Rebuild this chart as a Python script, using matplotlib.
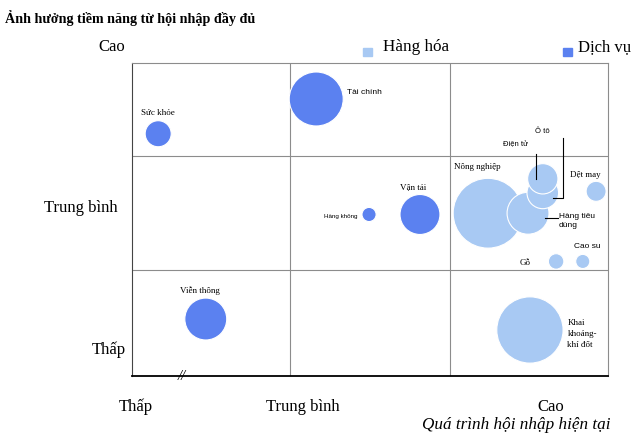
import matplotlib.pyplot as plt
from matplotlib.patches import Rectangle

plt.rcParams['font.family'] = ['Liberation Serif', 'DejaVu Serif']

# data: x = quá trình hội nhập hiện tại (0-100), y = ảnh hưởng tiềm năng (0-100)
goods = ["Nông nghiệp", "Hàng tiêu dùng", "Ô tô", "Điện tử", "Dệt may",
         "Cao su", "Gỗ", "Khai khoáng-khí đốt"]
goods_x = [74.8, 83.2, 86.3, 86.3, 97.5, 94.7, 89.1, 83.6]
goods_y = [52.0, 52.0, 58.5, 63.0, 59.0, 36.6, 36.6, 14.7]
goods_w = [122, 44, 25, 23, 10, 5, 6, 110]

services = ["Sức khỏe", "Tài chính", "Hàng không", "Vận tải", "Viễn thông"]
serv_x = [5.5, 38.7, 49.8, 60.5, 15.5]
serv_y = [77.4, 88.5, 51.6, 51.6, 18.2]
serv_w = [17, 73, 5, 40, 44]

row_lines = [33.8, 70.4]
col_lines = [33.2, 66.8]
y_levels = ["Thấp", "Trung bình", "Cao"]
x_levels = ["Thấp", "Trung bình", "Cao"]

light = "#a8c9f3"
dark = "#5b81f0"
k = 20.7  # scatter size per weight unit

fig = plt.figure(figsize=(6.4, 4.42), dpi=100)
ax = fig.add_axes([132 / 640, 1 - 376 / 442, 476 / 640, 313 / 442])
ax.set_xlim(0, 100)
ax.set_ylim(0, 100)
ax.set_xticks([])
ax.set_yticks([])
for v in col_lines:
    ax.axvline(v, color="#8c8c8c", lw=0.8, zorder=0)
for v in row_lines:
    ax.axhline(v, color="#8c8c8c", lw=0.8, zorder=0)
ax.spines["top"].set_color("#8c8c8c")
ax.spines["right"].set_color("#8c8c8c")
ax.spines["top"].set_linewidth(0.8)
ax.spines["right"].set_linewidth(0.8)
ax.spines["left"].set_color("#444444")
ax.spines["left"].set_linewidth(0.8)
ax.spines["bottom"].set_color("black")
ax.spines["bottom"].set_linewidth(1.3)

ax.scatter(goods_x, goods_y, s=[k * w for w in goods_w], c=light,
           edgecolors="white", linewidths=0.8, zorder=3)
ax.scatter(serv_x, serv_y, s=[k * w for w in serv_w], c=dark,
           edgecolors="white", linewidths=0.8, zorder=3)

px = 100 / 476
py = 100 / 313


def lab(name, x, y, dx, dy, ha="left", size=6, fam=None, ls=1.2):
    kw = {}
    if fam:
        kw["family"] = fam
    ax.annotate(name, (x, y), xytext=(dx, dy), textcoords="offset points",
                ha=ha, va="center", fontsize=size, zorder=5, linespacing=ls, **kw)


sans = ["Liberation Sans", "DejaVu Sans"]
g = dict(zip(goods, zip(goods_x, goods_y)))
s = dict(zip(services, zip(serv_x, serv_y)))

lab("Sức khỏe", *s["Sức khỏe"], 0, 15, ha="center", size=6.5)
lab("Tài chính", *s["Tài chính"], 22, 5, size=6, fam=sans)
lab("Hàng không", *s["Hàng không"], -8, -1.5, ha="right", size=4.5, fam=sans)
lab("Vận tải", *s["Vận tải"], -5, 19.5, ha="center", size=6.5)
lab("Viễn thông", *s["Viễn thông"], -4, 20.5, ha="center", size=6.5)

lab("Nông nghiệp", *g["Nông nghiệp"], -8, 33, ha="center", size=6.5)
lab("Dệt may", *g["Dệt may"], -8, 11.5, ha="center", size=6.5)
lab("Cao su", *g["Cao su"], 3, 11, ha="center", size=6, fam=sans)
lab("Gỗ", *g["Gỗ"], -22, -1, ha="center", size=6.5)
lab("Khai\nkhoáng-\nkhí đốt", *g["Khai khoáng-khí đốt"], 27, -3, size=6.5, ls=1.45)

# leader lines
ex, ey = g["Điện tử"]
ax.plot([ex - 7 * px, ex - 7 * px], [ey, ey + 25 * py], color="black", lw=0.8, zorder=4)
lab("Điện tử", ex - 15 * px, ey + 34 * py, 0, 0, ha="right", size=5.5, fam=sans)

ox, oy = g["Ô tô"]
ax.plot([ox + 10 * px, ox + 20 * px, ox + 20 * px],
        [oy - 5 * py, oy - 5 * py, oy + 55 * py], color="black", lw=0.8, zorder=4)
lab("Ô tô", ox, oy + 61 * py, 0, 0, ha="center", size=5.5, fam=sans)

hx, hy = g["Hàng tiêu dùng"]
ax.plot([hx + 17 * px, hx + 30 * px], [hy - 5 * py, hy - 5 * py],
        color="black", lw=0.8, zorder=4)
lab("Hàng tiêu\ndùng", hx + 31 * px, hy - 8 * py, 0, 0, size=6, fam=sans, ls=1.3)

# axis break mark
ax.text((182 - 132) * px, 0, "//", ha="center", va="center", fontsize=10.5,
        style="italic", zorder=6, clip_on=False)

# level labels
for lvl, xr, ypix in zip(y_levels, [126, 118, 125], [350, 208, 47]):
    fig.text(xr / 640, 1 - ypix / 442, lvl, ha="right", va="center", fontsize=12)
for lvl, xpix in zip(x_levels, [136, 303, 551]):
    fig.text(xpix / 640, 1 - 407 / 442, lvl, ha="center", va="center", fontsize=12)
fig.text(516 / 640, 1 - 425 / 442, "Quá trình hội nhập hiện tại", ha="center",
         va="center", fontsize=12.3, style="italic")
fig.text(5 / 640, 1 - 18 / 442, "Ảnh hưởng tiềm năng từ hội nhập đầy đủ",
         ha="left", va="center", fontsize=10.2, fontweight="bold")

# legend
for col, xpix in [(light, 363), (dark, 563)]:
    fig.patches.append(Rectangle((xpix / 640, 1 - 56 / 442), 8.5 / 640, 8 / 442,
                                 transform=fig.transFigure, color=col))
fig.text(383 / 640, 1 - 47 / 442, "Hàng hóa", ha="left", va="center", fontsize=12.3)
fig.text(578 / 640, 1 - 47 / 442, "Dịch vụ", ha="left", va="center", fontsize=12)

fig.savefig("out.png", dpi=100)
